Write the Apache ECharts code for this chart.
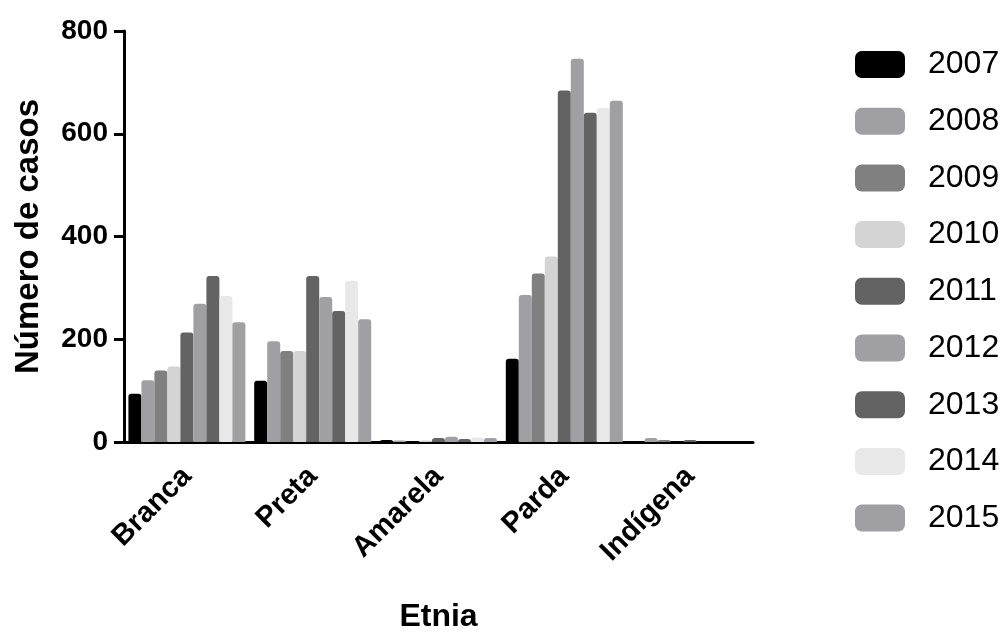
<!DOCTYPE html>
<html>
<head>
<meta charset="utf-8">
<script src="https://cdn.jsdelivr.net/npm/echarts@6/dist/echarts.min.js"></script>
<style>
  html, body { margin: 0; padding: 0; background: #fff; }
  #chart { width: 1001px; height: 638px; }
</style>
</head>
<body>
<div id="chart"></div>
<script>
// Categories (ethnic groups) and years
const categories = ['Branca', 'Preta', 'Amarela', 'Parda', 'Indígena'];
const years = ['2007', '2008', '2009', '2010', '2011', '2012', '2013', '2014', '2015'];

// Number of cases per year, ordered as the categories above
const cases2007 = [94, 119, 4, 162, 0];
const cases2008 = [120, 196, 3, 286, 8];
const cases2009 = [139, 177, 0, 328, 4];
const cases2010 = [147, 177, 3, 361, 0];
const cases2011 = [213, 323, 8, 684, 4];
const cases2012 = [269, 282, 10, 746, 0];
const cases2013 = [323, 255, 6, 641, 0];
const cases2014 = [284, 314, 9, 650, 0];
const cases2015 = [233, 239, 8, 664, 0];

// Y axis ticks
const yTicks = [0, 200, 400, 600, 800];

const seriesValues = [cases2007, cases2008, cases2009, cases2010, cases2011,
                      cases2012, cases2013, cases2014, cases2015];
const colors = ['#000000', '#a0a0a4', '#808080', '#d4d4d4', '#636363',
                '#a0a0a4', '#636363', '#e8e8e8', '#a0a0a4'];

const FONT = '"Liberation Sans", Arial, sans-serif';

const chart = echarts.init(document.getElementById('chart'), null, { renderer: 'canvas' });

chart.setOption({
  animation: false,
  backgroundColor: '#ffffff',
  color: colors,
  grid: { left: 124, right: 248, top: 31, bottom: 187, containLabel: false },
  legend: {
    orient: 'vertical',
    left: 850,
    top: 43.5,
    itemWidth: 50,
    itemHeight: 27,
    itemGap: 24.7,
    icon: 'roundRect',
    textStyle: { fontFamily: FONT, fontSize: 32, color: '#000', padding: [0, 0, 0, 18] },
    data: years
  },
  xAxis: {
    type: 'category',
    data: categories,
    name: 'Etnia',
    nameLocation: 'middle',
    nameGap: 159,
    nameTextStyle: { fontFamily: FONT, fontSize: 32, fontWeight: 'bold', color: '#000' },
    axisLine: { lineStyle: { color: '#000', width: 3 } },
    axisTick: { alignWithLabel: true, length: 10, lineStyle: { color: '#000', width: 3 } },
    axisLabel: {
      rotate: 45,
      margin: 30,
      interval: 0,
      fontFamily: FONT,
      fontSize: 29,
      fontWeight: 'bold',
      color: '#000'
    }
  },
  yAxis: {
    type: 'value',
    min: yTicks[0],
    max: yTicks[yTicks.length - 1],
    interval: 200,
    name: 'Número de casos',
    nameLocation: 'middle',
    nameRotate: 90,
    nameGap: 79,
    nameTextStyle: { fontFamily: FONT, fontSize: 33, fontWeight: 'bold', color: '#000' },
    axisLine: { show: true, lineStyle: { color: '#000', width: 3 } },
    axisTick: { show: true, length: 10, lineStyle: { color: '#000', width: 3 } },
    splitLine: { show: false },
    axisLabel: {
      margin: 16,
      fontFamily: FONT,
      fontSize: 28,
      fontWeight: 'bold',
      color: '#000'
    }
  },
  series: seriesValues.map((vals, i) => ({
    name: years[i],
    type: 'bar',
    data: vals,
    barGap: '0%',
    barCategoryGap: '7%',
    itemStyle: { color: colors[i], borderRadius: [3, 3, 0, 0] }
  }))
});
</script>
</body>
</html>
